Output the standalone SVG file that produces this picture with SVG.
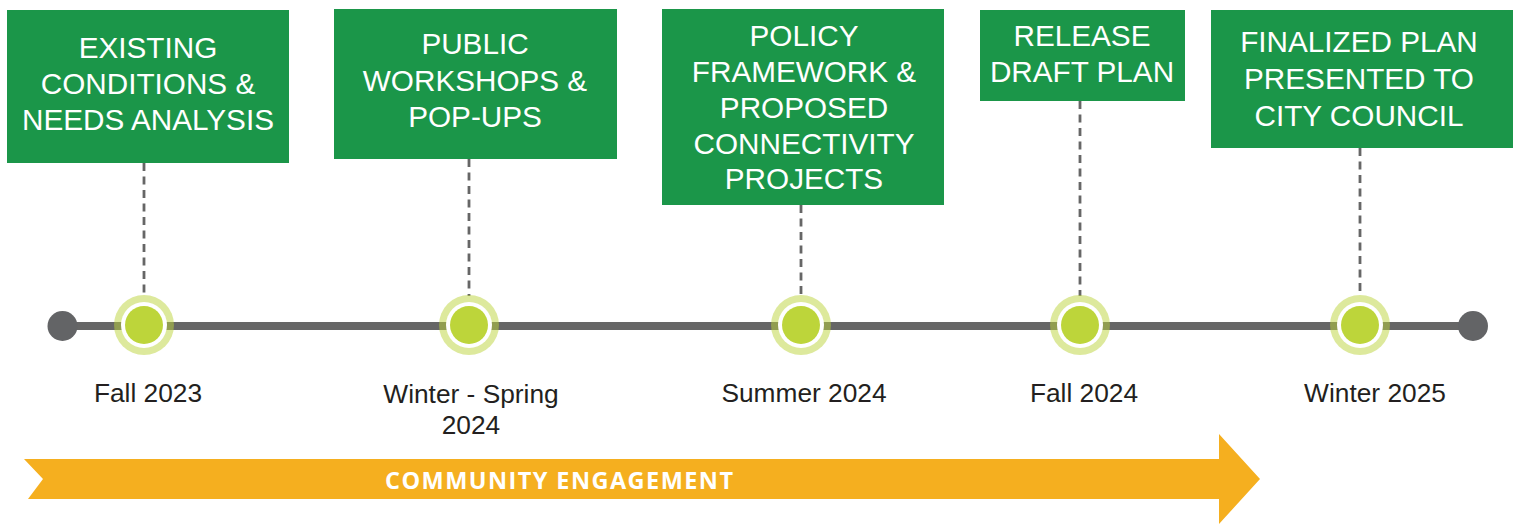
<svg xmlns="http://www.w3.org/2000/svg" width="1519" height="529" viewBox="0 0 1519 529">
<style>
.box{fill:#1b9649}
.bt{font-family:"Liberation Sans",Arial,sans-serif;font-size:29.7px;fill:#ffffff;text-anchor:middle}
.dt{font-family:"Liberation Sans",Arial,sans-serif;font-size:26.3px;fill:#231f20;text-anchor:middle}
.dash{stroke:#666666;stroke-width:2.8;stroke-dasharray:8 5.5;fill:none}
.ring{fill:#bcd43a;fill-opacity:0.5}
.gap{fill:#ffffff}
.dot{fill:#bdd53a}
.end{fill:#636466}
</style>
<rect width="1519" height="529" fill="#ffffff"/>
<g id="timeline">
<line x1="62" y1="326" x2="1473" y2="326" stroke="#666666" stroke-width="8"/>
<circle class="end" cx="62.5" cy="326" r="15"/>
<circle class="end" cx="1473" cy="326" r="15"/>
</g>
<g id="connectors">
<line class="dash" x1="144" y1="163" x2="144" y2="296"/>
<line class="dash" x1="469" y1="159" x2="469" y2="296"/>
<line class="dash" x1="801" y1="205" x2="801" y2="296"/>
<line class="dash" x1="1080" y1="101" x2="1080" y2="296"/>
<line class="dash" x1="1360" y1="148" x2="1360" y2="296"/>
</g>
<g id="node1">
<rect class="box" x="7" y="10" width="282" height="153"/>
<text class="bt" x="148" y="58">EXISTING</text>
<text class="bt" x="148" y="94">CONDITIONS &amp;</text>
<text class="bt" x="148" y="130">NEEDS ANALYSIS</text>
<circle class="ring" cx="144" cy="325" r="30"/>
<circle class="gap" cx="144" cy="325" r="23"/>
<circle class="dot" cx="144" cy="325" r="19"/>
<text class="dt" x="148" y="402">Fall 2023</text>
</g>
<g id="node2">
<rect class="box" x="334" y="9" width="283" height="150"/>
<text class="bt" x="475" y="54">PUBLIC</text>
<text class="bt" x="475" y="91">WORKSHOPS &amp;</text>
<text class="bt" x="475" y="127">POP-UPS</text>
<circle class="ring" cx="469" cy="325" r="30"/>
<circle class="gap" cx="469" cy="325" r="23"/>
<circle class="dot" cx="469" cy="325" r="19"/>
<text class="dt" x="471" y="403">Winter - Spring</text>
<text class="dt" x="471" y="434">2024</text>
</g>
<g id="node3">
<rect class="box" x="662" y="9" width="282" height="196"/>
<text class="bt" x="804" y="46">POLICY</text>
<text class="bt" x="804" y="82">FRAMEWORK &amp;</text>
<text class="bt" x="804" y="118">PROPOSED</text>
<text class="bt" x="804" y="154">CONNECTIVITY</text>
<text class="bt" x="804" y="189">PROJECTS</text>
<circle class="ring" cx="801" cy="325" r="30"/>
<circle class="gap" cx="801" cy="325" r="23"/>
<circle class="dot" cx="801" cy="325" r="19"/>
<text class="dt" x="804" y="402">Summer 2024</text>
</g>
<g id="node4">
<rect class="box" x="980" y="10" width="205" height="91"/>
<text class="bt" x="1082" y="46">RELEASE</text>
<text class="bt" x="1082" y="82">DRAFT PLAN</text>
<circle class="ring" cx="1080" cy="325" r="30"/>
<circle class="gap" cx="1080" cy="325" r="23"/>
<circle class="dot" cx="1080" cy="325" r="19"/>
<text class="dt" x="1084" y="402">Fall 2024</text>
</g>
<g id="node5">
<rect class="box" x="1211" y="10" width="302" height="138"/>
<text class="bt" x="1359" y="52">FINALIZED PLAN</text>
<text class="bt" x="1359" y="89">PRESENTED TO</text>
<text class="bt" x="1359" y="126">CITY COUNCIL</text>
<circle class="ring" cx="1360" cy="325" r="30"/>
<circle class="gap" cx="1360" cy="325" r="23"/>
<circle class="dot" cx="1360" cy="325" r="19"/>
<text class="dt" x="1375" y="402">Winter 2025</text>
</g>
<g id="engagement">
<polygon points="24,459 1219,459 1219,434 1260,479 1219,524 1219,499 28,499 43,479" fill="#f5af1f"/>
<text x="559" y="489" font-family="'Open Sans','DejaVu Sans',sans-serif" font-weight="bold" font-size="23.5" fill="#ffffff" text-anchor="middle" textLength="348">COMMUNITY ENGAGEMENT</text>
</g>
</svg>
